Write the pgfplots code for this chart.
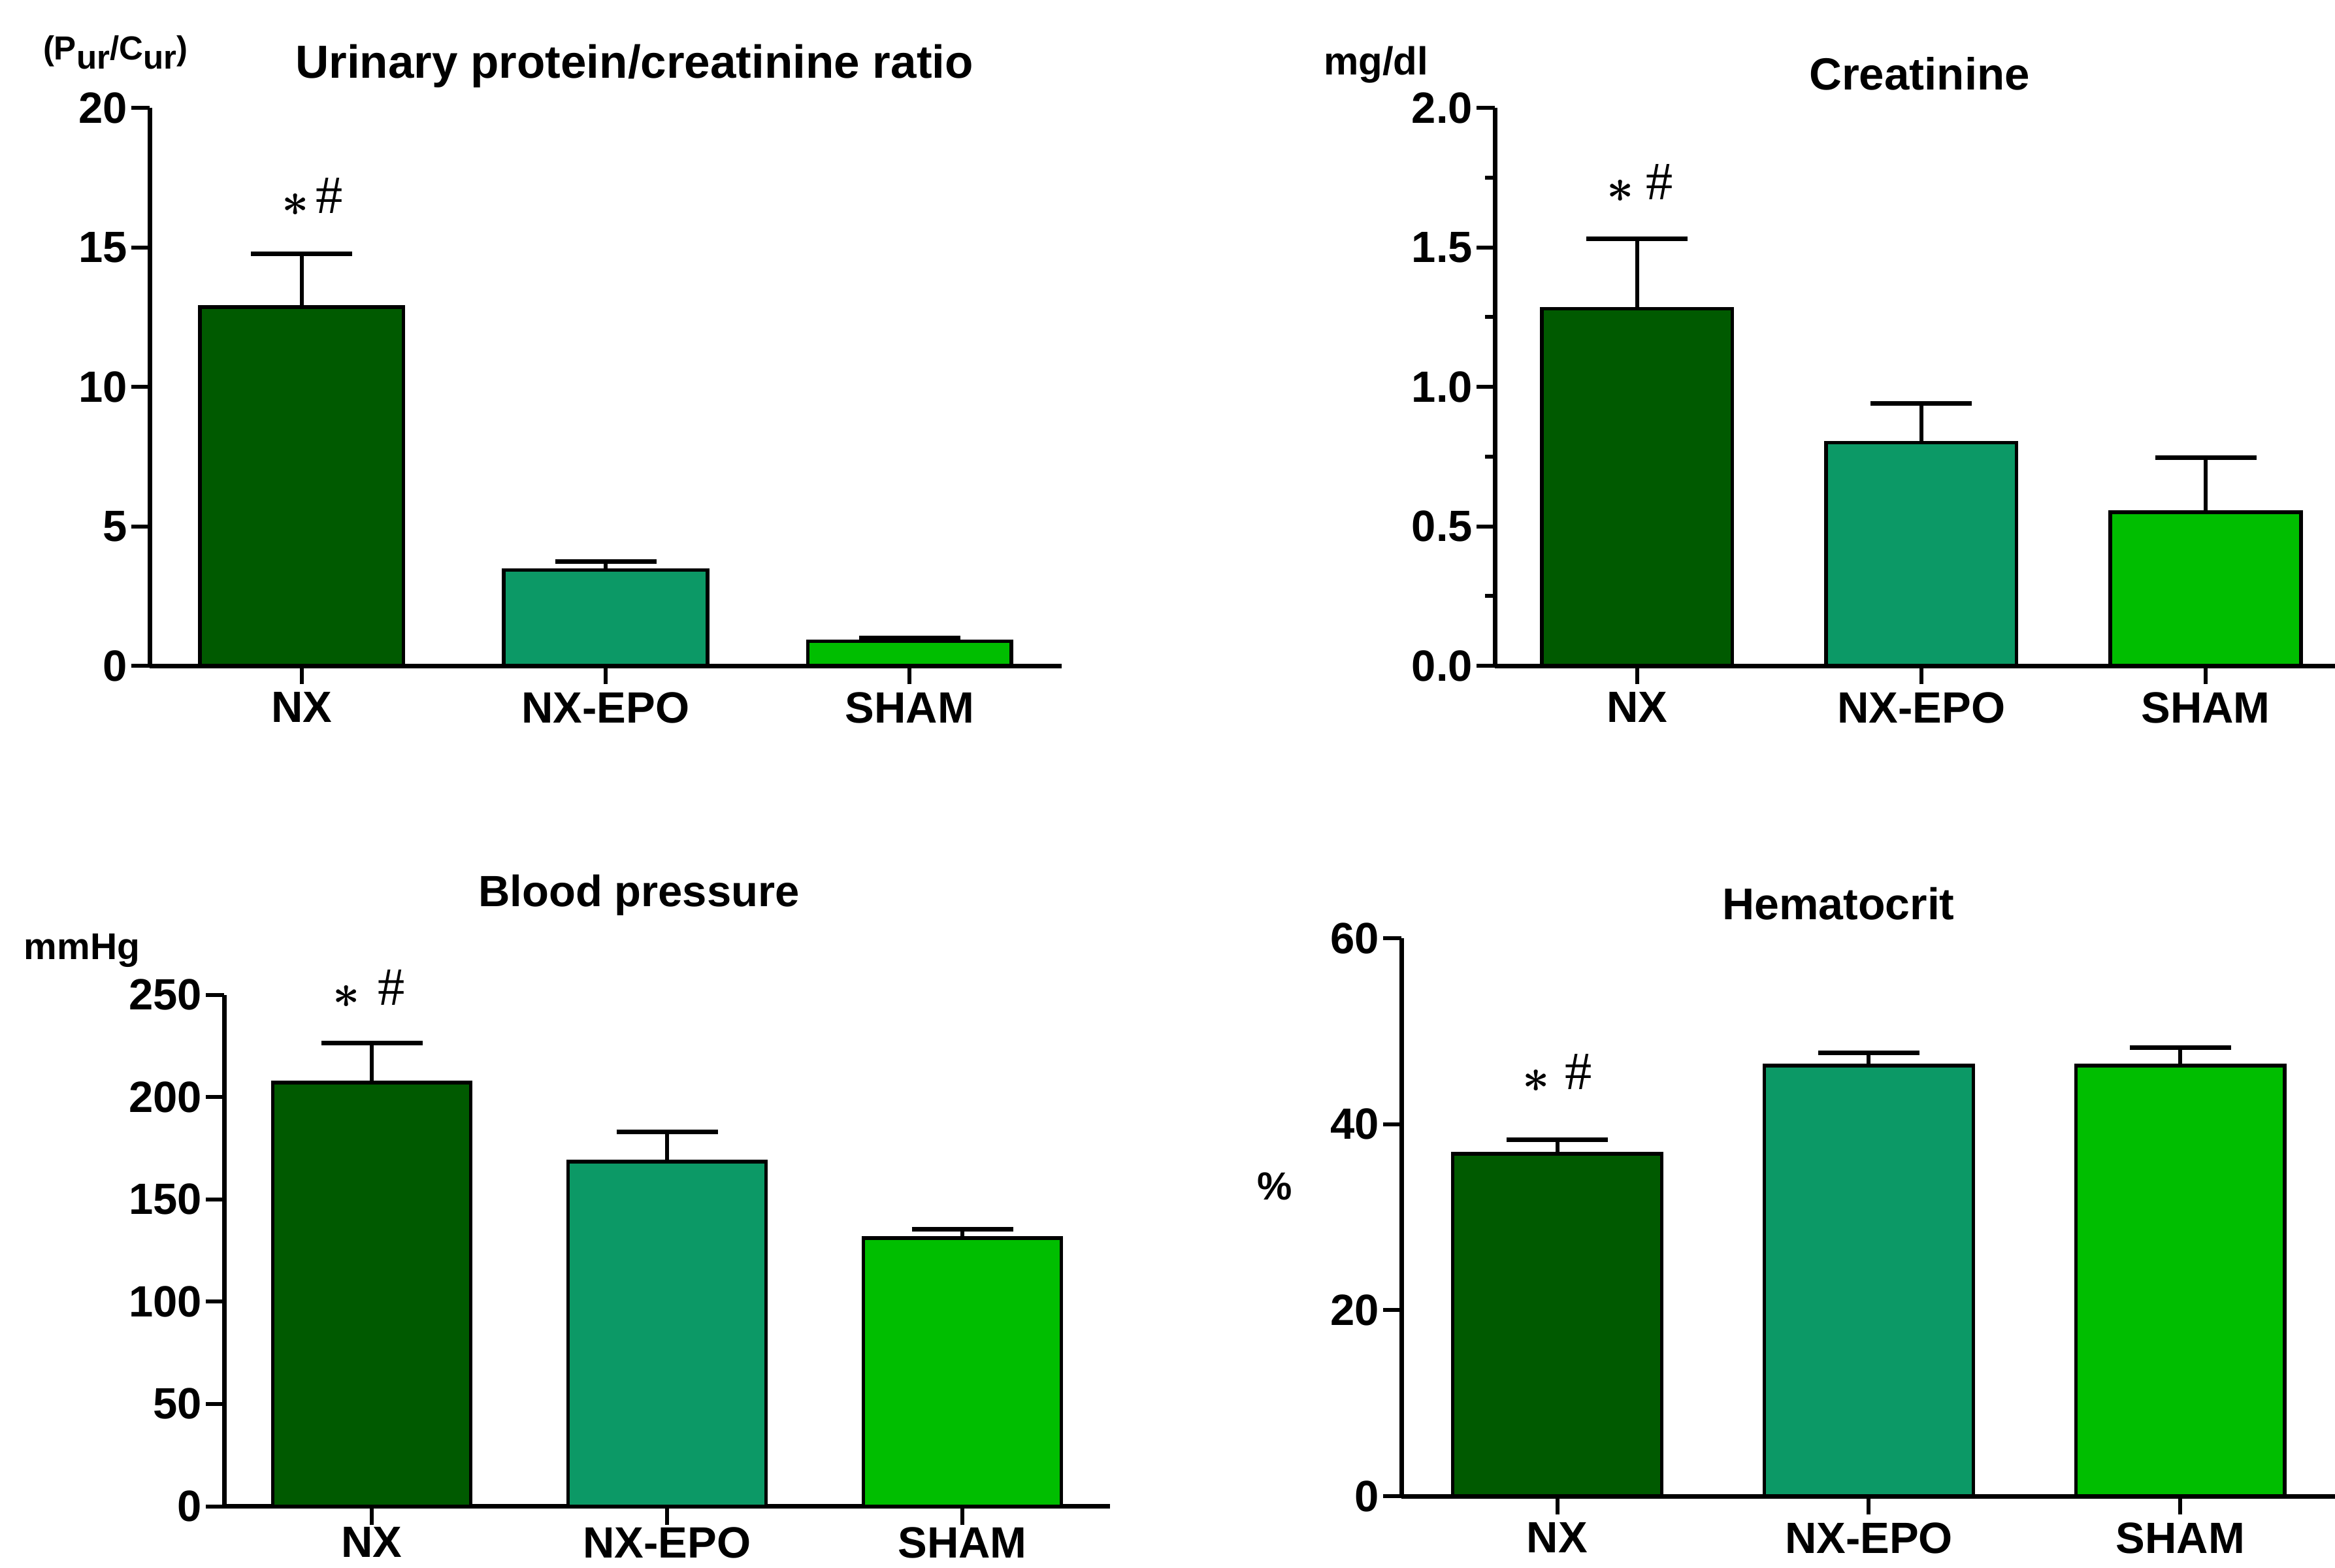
\documentclass[border=0pt]{standalone}
\usepackage{pgfplots}
\pgfplotsset{compat=1.18}
\usepackage{fontspec}
\setmainfont{Liberation Sans}
\newfontfamily\serifm{Liberation Serif}
\definecolor{cnx}{RGB}{0,90,0}
\definecolor{cepo}{RGB}{12,153,102}
\definecolor{csham}{RGB}{0,190,0}
\pgfplotsset{
  panel/.style={
    scale only axis,
    axis lines=left,
    axis line style={-, line width=1.4pt, black},
    tick align=outside,
    major tick length=5.6pt,
    minor tick length=3pt,
    tick style={line width=1.2pt, black},
    xtick={0,1,2},
    xticklabels={NX,NX-EPO,SHAM},
    xmin=-0.5, xmax=2.5,
    ymin=0,
    clip=false,
    ticklabel style={font=\fontsize{13.4pt}{15pt}\selectfont\bfseries},
    yticklabel style={inner sep=1pt},
    xticklabel style={inner sep=2.3pt},
    /pgf/number format/assume math mode=true,
  },
  bars/.style={ybar, bar shift=0pt, bar width=0.67, draw=black, line width=1.1pt, fill=#1,
    error bars/.cd, y dir=plus, y explicit, error mark=|,
    error bar style={line width=1.2pt, black, solid},
    error mark options={line width=1.4pt, black, mark size=15.5pt}},
}
\newcommand{\annot}[1]{{\fontsize{15pt}{16pt}\selectfont\raisebox{-0.8pt}{\boldmath$\ast$}\hspace{#1}{\fontsize{16.5pt}{18pt}\selectfont\serifm\#}}}
\begin{document}
\begin{tikzpicture}
\useasboundingbox (0,0) rectangle (714.8pt,479.8pt);

% Panel 1: Urinary protein/creatinine ratio
\begin{axis}[panel, at={(45.8pt,276pt)}, anchor=south west,
  width=279.2pt, height=170.8pt, ymax=20, ytick={0,5,10,15,20}]
\addplot[bars=cnx] coordinates {(0,12.86) +- (0,1.90)};
\addplot[bars=cepo] coordinates {(1,3.43) +- (0,0.31)};
\addplot[bars=csham] coordinates {(2,0.88) +- (0,0.11)};
\node at (axis cs:0.035,16.8) {\annot{2.2pt}};
\end{axis}

% Panel 2: Creatinine
\begin{axis}[panel, at={(457.6pt,276pt)}, anchor=south west,
  width=257.2pt, height=170.8pt, xmax=2.455, ymax=2, ytick={0,0.5,1,1.5,2},
  minor ytick={0.25,0.75,1.25,1.75},
  yticklabel style={/pgf/number format/.cd, fixed, fixed zerofill, precision=1}]
\addplot[bars=cnx] coordinates {(0,1.28) +- (0,0.25)};
\addplot[bars=cepo] coordinates {(1,0.80) +- (0,0.14)};
\addplot[bars=csham] coordinates {(2,0.55) +- (0,0.195)};
\node at (axis cs:0.01,1.73) {\annot{3.6pt}};
\end{axis}

% Panel 3: Blood pressure
\begin{axis}[panel, at={(68.6pt,18.7pt)}, anchor=south west,
  width=271.2pt, height=156.6pt, ymax=250, ytick={0,50,100,150,200,250},
  xticklabel style={inner sep=0.6pt}]
\addplot[bars=cnx] coordinates {(0,207) +- (0,19.5)};
\addplot[bars=cepo] coordinates {(1,168.5) +- (0,14.5)};
\addplot[bars=csham] coordinates {(2,131) +- (0,4.5)};
\node at (axis cs:-0.01,253) {\annot{5.6pt}};
\end{axis}

% Panel 4: Hematocrit
\begin{axis}[panel, at={(429pt,21.8pt)}, anchor=south west,
  width=285.7pt, height=170.8pt, xmax=2.495, ymax=60, ytick={0,20,40,60}]
\addplot[bars=cnx] coordinates {(0,36.8) +- (0,1.5)};
\addplot[bars=cepo] coordinates {(1,46.3) +- (0,1.4)};
\addplot[bars=csham] coordinates {(2,46.3) +- (0,1.9)};
\node at (axis cs:0,45.5) {\annot{4.8pt}};
\end{axis}

% Titles and unit labels
\node[anchor=base, font=\fontsize{14.2pt}{16pt}\selectfont\bfseries] at (194.2pt,455.8pt) {Urinary protein/creatinine ratio};
\node[anchor=base, font=\fontsize{13.8pt}{16pt}\selectfont\bfseries] at (587.6pt,452.2pt) {Creatinine};
\node[anchor=base, font=\fontsize{13.4pt}{16pt}\selectfont\bfseries] at (195.6pt,202.4pt) {Blood pressure};
\node[anchor=base, font=\fontsize{13.6pt}{16pt}\selectfont\bfseries] at (562.8pt,198.2pt) {Hematocrit};
\node[anchor=base west, inner sep=0pt, font=\fontsize{10.2pt}{12pt}\selectfont\bfseries] at (13pt,461.4pt) {(P\raisebox{-2.8pt}{ur}/C\raisebox{-2.8pt}{ur})};
\node[anchor=base west, inner sep=0pt, font=\fontsize{12pt}{13pt}\selectfont\bfseries] at (405pt,456.8pt) {mg/dl};
\node[anchor=base west, inner sep=0pt, font=\fontsize{11.4pt}{13pt}\selectfont\bfseries] at (7.2pt,186pt) {mmHg};
\node[inner sep=0pt, font=\fontsize{12pt}{14pt}\selectfont\bfseries] at (390.2pt,116.6pt) {\%};
\end{tikzpicture}
\end{document}
